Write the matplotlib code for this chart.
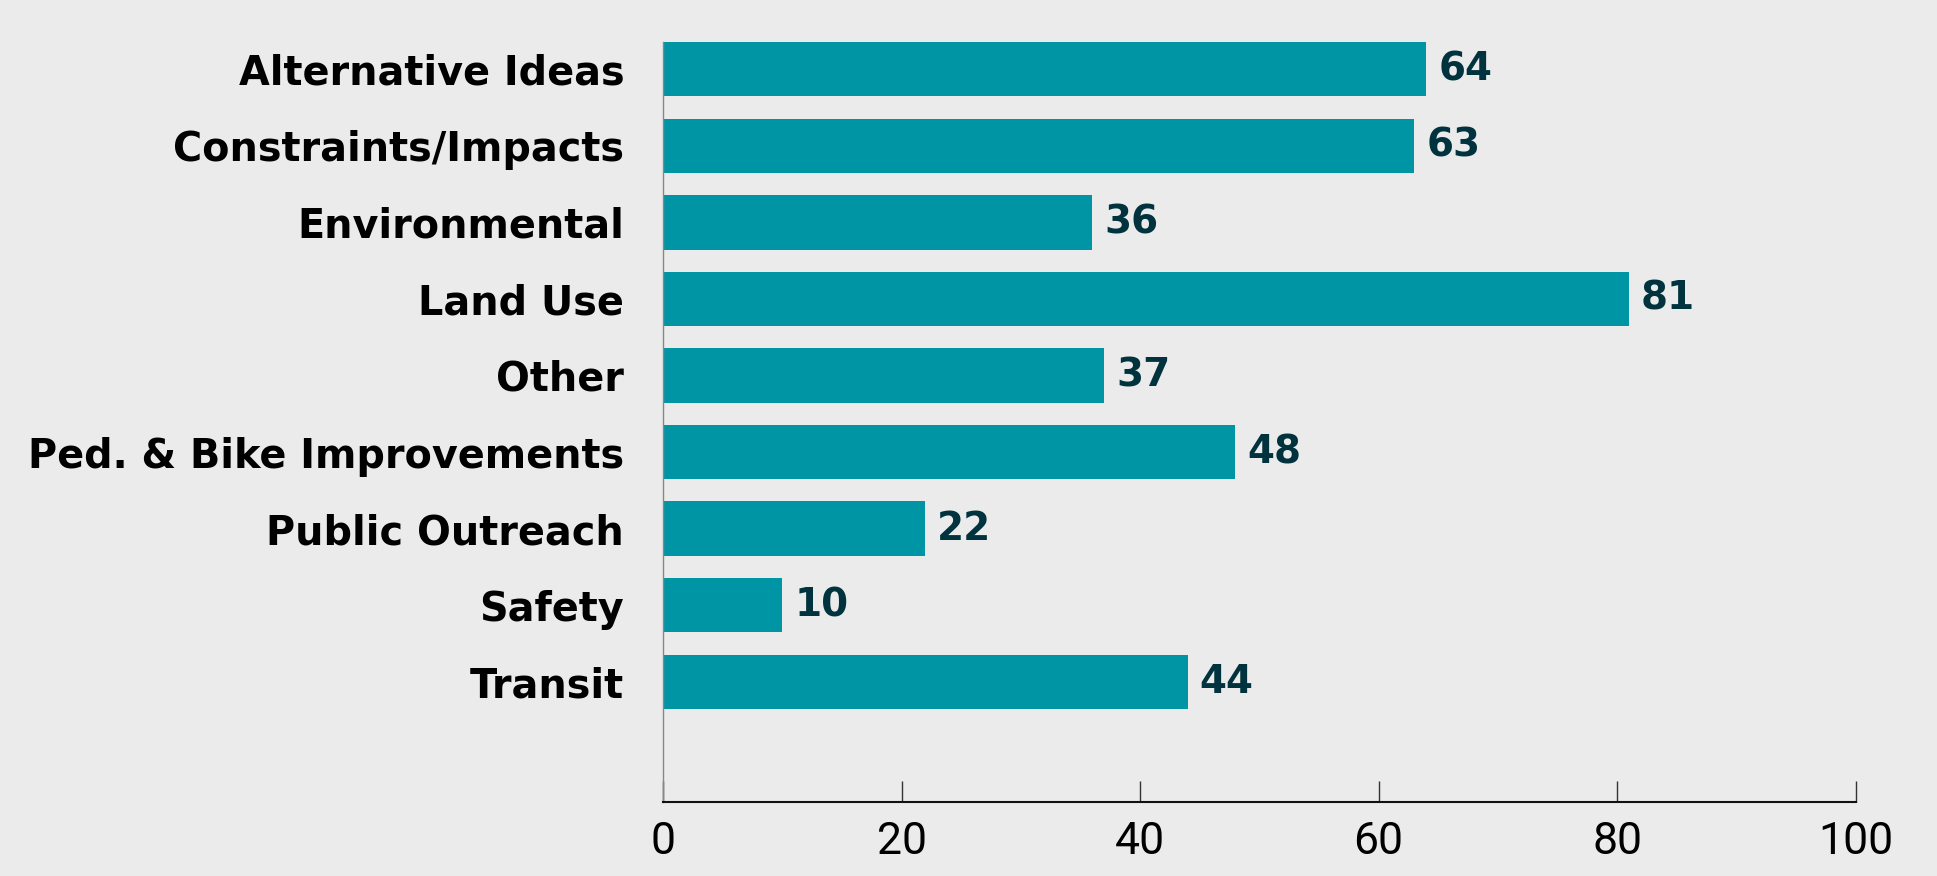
import matplotlib.pyplot as plt
import numpy as np

categories = ["Alternative Ideas", "Constraints/Impacts", "Environmental", "Land Use",
              "Other", "Ped. & Bike Improvements", "Public Outreach", "Safety", "Transit"]
values = [64, 63, 36, 81, 37, 48, 22, 10, 44]
xticks = [0, 20, 40, 60, 80, 100]

bg = "#ebebeb"
bar_color = "#0095a5"
label_color = "#00333d"

fig = plt.figure(figsize=(19.37, 8.76), dpi=100, facecolor=bg)
ax = fig.add_axes([0.3423, 0.0845, 0.958 - 0.3423, 0.952 - 0.0845])
ax.set_facecolor(bg)

y = np.arange(len(categories))
bars = ax.barh(y, values, height=0.71, color=bar_color)

for b, v in zip(bars, values):
    ax.text(b.get_width() + 1.0, b.get_y() + b.get_height() / 2, str(v),
            va="center", ha="left", fontsize=28, fontweight="bold",
            color=label_color, family="DejaVu Sans")

ax.set_xlim(0, 100)
ax.set_ylim(9.57, -0.355)
ax.set_yticks(y)
ax.set_yticklabels(categories, fontsize=28.6, fontweight="bold", family="DejaVu Sans", color="black")
ax.set_xticks(xticks)
ax.set_xticklabels([str(t) for t in xticks], fontsize=32, family="Roboto",
                   fontweight="normal", color="black")

ax.tick_params(axis="y", length=0, pad=28)
ax.tick_params(axis="x", direction="in", length=15, width=1, color="#333333", pad=14)

for s in ["top", "right"]:
    ax.spines[s].set_visible(False)
ax.spines["left"].set_color("#888888")
ax.spines["left"].set_linewidth(1)
ax.spines["bottom"].set_color("#111111")
ax.spines["bottom"].set_linewidth(1.5)

fig.savefig("out.png", dpi=100, facecolor=bg)
